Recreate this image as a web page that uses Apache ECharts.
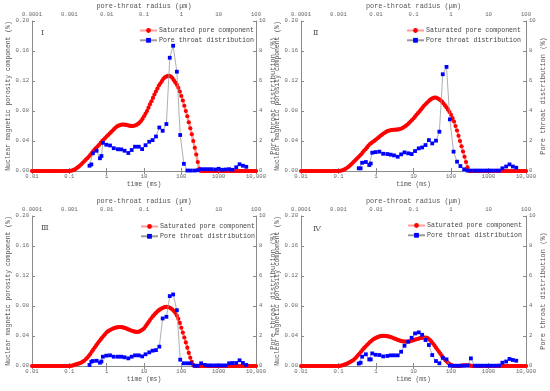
<!DOCTYPE html>
<html><head><meta charset="utf-8">
<script src="https://cdn.jsdelivr.net/npm/echarts@6/dist/echarts.min.js"></script>
<style>html,body{margin:0;padding:0;background:#fff}#c{width:550px;height:391px}</style>
</head><body><div id="c"></div>
<script>
// ---------- data ----------
const panelLabels = ['Ⅰ', 'Ⅱ', 'Ⅲ', 'Ⅳ'];
const seriesNames = ['Saturated pore component', 'Pore throat distribution'];
const timeTickLabels = ['0.01', '0.1', '1', '10', '100', '1000', '10,000'];
const radiusTickLabels = ['0.0001', '0.001', '0.01', '0.1', '1', '10', '100'];

// NMR T2 bins: log10(t) from -2 to 4, step 0.04 (151 bins)
const t2LogStart = -2, t2LogStep = 0.04;

// Saturated pore component (%), one value per T2 bin
const red1 = [0,0,0,0,0, 0,0,0,0,0, 0,0,0,0,0, 0,0,0,0,0, 0,0,0,0,0,
  0,0.0003,0.0008,0.0015,0.0025,0.004,0.0055,0.007,0.009,0.011,0.013,0.015,0.017,0.019,0.0215,0.024,0.0265,0.029,0.031,0.033,0.035,0.0375,0.040,0.042,0.044,
  0.046,0.048,0.050,0.052,0.054,0.056,0.058,0.0595,0.0605,0.0613,0.0618,0.062,0.0619,0.0615,0.061,0.0605,0.0601,0.060,0.0602,0.0607,0.0615,0.0628,0.0645,0.0667,0.0695,
  0.073,0.0765,0.080,0.0845,0.089,0.093,0.0975,0.102,0.106,0.110,0.114,0.117,0.120,0.123,0.125,0.126,0.127,0.1268,0.126,0.124,0.121,0.118,0.115,0.111,0.106,
  0.100,0.094,0.087,0.080,0.073,0.065,0.057,0.049,0.040,0.031,0.022,0.012,0.003,0,
  0,0,0,0,0, 0,0,0,0,0, 0,0,0,0,0, 0,0,0,0,0, 0,0,0,0,0, 0,0,0,0,0, 0,0,0,0,0, 0,0];
const red2 = [0,0,0,0,0, 0,0,0,0,0, 0,0,0,0,0, 0,0,0,0,0, 0,0,0,0,0,
  0,0.0003,0.0007,0.0013,0.0022,0.0033,0.0047,0.0063,0.008,0.010,0.012,0.014,0.016,0.018,0.020,0.022,0.0245,0.027,0.029,0.0315,0.034,0.036,0.0375,0.039,0.0405,
  0.042,0.0437,0.0453,0.047,0.0485,0.050,0.0513,0.0525,0.0534,0.054,0.0545,0.0548,0.055,0.0551,0.0552,0.0555,0.056,0.0567,0.0577,0.059,0.0605,0.062,0.064,0.066,0.068,
  0.070,0.0725,0.075,0.0772,0.0795,0.082,0.0845,0.087,0.089,0.091,0.093,0.0948,0.0963,0.0973,0.098,0.0978,0.097,0.0958,0.0943,0.0925,0.090,0.0875,0.0848,0.0818,0.0786,
  0.075,0.0705,0.066,0.060,0.054,0.047,0.040,0.033,0.026,0.019,0.012,0.005,0,0,
  0,0,0,0,0, 0,0,0,0,0, 0,0,0,0,0, 0,0,0,0,0, 0,0,0,0,0, 0,0,0,0,0, 0,0,0,0,0, 0,0];
const red3 = [0,0,0,0,0, 0,0,0,0,0, 0,0,0,0,0, 0,0,0,0,0, 0,0,0,0,0,
  0,0.0002,0.0006,0.0011,0.0018,0.0025,0.0031,0.0037,0.0046,0.0058,0.007,0.009,0.011,0.0133,0.016,0.019,0.0218,0.0246,0.0274,0.0302,0.033,0.0355,0.038,0.0403,0.0426,
  0.045,0.0465,0.0476,0.0487,0.0497,0.0505,0.0511,0.0516,0.0519,0.052,0.0518,0.0514,0.0508,0.0501,0.0493,0.0485,0.0477,0.0469,0.0463,0.0458,0.0455,0.0455,0.0461,0.0472,0.0486,
  0.050,0.0528,0.0556,0.0584,0.0612,0.064,0.0664,0.0688,0.0708,0.0728,0.0745,0.0758,0.077,0.0779,0.0786,0.079,0.0786,0.078,0.0768,0.0752,0.0735,0.0707,0.0673,0.063,0.0575,
  0.051,0.0446,0.038,0.0315,0.0245,0.0175,0.011,0.0055,0.0015,0,0,0,0,0,
  0,0,0,0,0, 0,0,0,0,0, 0,0,0,0,0, 0,0,0,0,0, 0,0,0,0,0, 0,0,0,0,0, 0,0,0,0,0, 0,0];
const red4 = [0,0,0,0,0, 0,0,0,0,0, 0,0,0,0,0, 0,0,0,0,0, 0,0,0,0,0,
  0,0.0002,0.0006,0.0011,0.0018,0.0025,0.0034,0.0044,0.0056,0.0068,0.008,0.010,0.012,0.0142,0.0166,0.019,0.0214,0.0238,0.026,0.028,0.030,0.032,0.0337,0.0352,0.0364,
  0.0375,0.0384,0.0392,0.0398,0.0401,0.0402,0.0401,0.0399,0.0395,0.0391,0.0385,0.0377,0.0369,0.0361,0.0353,0.0345,0.0338,0.0332,0.0328,0.0326,0.0325,0.0326,0.0328,0.0332,0.0338,
  0.0345,0.0351,0.0357,0.0363,0.0369,0.0375,0.0378,0.038,0.0379,0.0374,0.0362,0.0345,0.0324,0.030,0.0273,0.0245,0.0217,0.0189,0.0161,0.0133,0.0107,0.0083,0.0062,0.0043,0.0027,
  0.0014,0.0005,0,0,0,0,0,0.0004,0.0008,0.001,0.001,0.001,0.0008,0.0004,
  0,0,0,0,0, 0,0,0,0,0, 0,0,0,0,0, 0,0,0,0,0, 0,0,0,0,0, 0,0,0,0,0, 0,0,0,0,0, 0,0];

// Pore throat distribution sampling times (ms) and values (%)
const poreTimes = [0.347,0.389,0.427,0.537,0.661,0.724,0.794,0.977,1.23,1.55,2.00,2.45,3.02,3.80,4.68,5.75,7.24,8.91,11.0,13.8,17.0,20.9,25.7,31.6,39.8,49.0,60.3,75.9,93.3,117,145,178,224,275,339,427,525,646,813,1000,1230,1549,1905,2344,2951,3631,4467,5495];
const blue1 = [0.35,0.44,1.18,1.35,0.85,1.0,1.88,1.75,1.70,1.52,1.45,1.44,1.35,1.20,1.40,1.62,1.62,1.46,1.72,1.95,2.06,2.30,2.90,2.68,3.13,7.55,8.35,6.62,2.40,0.48,0.03,0.03,0.03,0.05,0.12,0.12,0.12,0.12,0.10,0.15,0.08,0.10,0.12,0.08,0.25,0.45,0.35,0.28];
const blue2 = [0.18,0.18,0.55,0.60,0.40,0.50,1.22,1.26,1.29,1.15,1.13,1.09,1.04,0.95,1.11,1.24,1.18,1.13,1.33,1.51,1.57,1.73,2.06,1.84,2.02,2.62,6.45,6.94,3.44,1.29,0.62,0.33,0.11,0.03,0.03,0.03,0.03,0.03,0.03,0.03,0.03,0.03,0.03,0.18,0.30,0.44,0.30,0.22];
const blue3 = [0.07,0.29,0.33,0.35,0.22,0.30,0.62,0.69,0.71,0.62,0.62,0.62,0.58,0.51,0.62,0.71,0.71,0.64,0.78,0.91,1.02,1.06,1.29,3.17,3.28,4.66,4.77,3.72,0.42,0.18,0.18,0.18,0.02,0.02,0.18,0.07,0.04,0.04,0.04,0.04,0.04,0.04,0.18,0.20,0.20,0.38,0.20,0.07];
const blue4 = [0.16,0.22,0.62,0.78,0.44,0.44,0.84,0.75,0.73,0.64,0.67,0.71,0.71,0.71,0.95,1.35,1.62,1.88,2.17,2.24,2.08,1.73,1.40,0.73,0.33,0.18,0.55,0.44,0.02,0.02,0.02,0.02,0.02,0.03,0.51,0.02,0.02,0.02,0.02,0.02,0.02,0.02,0.03,0.22,0.30,0.47,0.40,0.35];

// ---------- chart ----------
const reds = [red1, red2, red3, red4];
const blues = [blue1, blue2, blue3, blue4];
const t2Times = red1.map((_, i) => +Math.pow(10, t2LogStart + i * t2LogStep).toPrecision(6));

const grids = [
  { left: 32, top: 21, width: 224, height: 150 },
  { left: 301, top: 21, width: 225, height: 150 },
  { left: 32, top: 216, width: 224, height: 150 },
  { left: 301, top: 216, width: 225, height: 150 }
];
const legendPos = [[139, 27], [406, 27], [140, 223], [407, 222]];
const labelPos = [[41, 29], [313, 29], [41, 224], [313, 225]];

const MONO = "'Liberation Mono', 'DejaVu Sans Mono', monospace";
const AX = '#8a8a8a', TXT = '#555';
const tickFont = { fontFamily: MONO, fontSize: 5.6, color: '#666' };
const logIdx = (v, base) => Math.round(Math.log10(v)) - base;

const option = { animation: false, backgroundColor: '#fff', grid: [], xAxis: [], yAxis: [], series: [], legend: [], title: [] };

grids.forEach((g, k) => {
  option.grid.push(Object.assign({ show: false }, g));
  const common = {
    gridIndex: k,
    axisLine: { show: true, lineStyle: { color: AX, width: 1 } },
    axisTick: { show: true, inside: true, length: 3, lineStyle: { color: AX } },
    splitLine: { show: false },
    minorTick: { show: false },
    nameTextStyle: { fontFamily: MONO, color: TXT }
  };
  option.xAxis.push(Object.assign({}, common, {
    type: 'log', logBase: 10, min: 0.01, max: 10000, position: 'bottom',
    name: 'time (ms)', nameLocation: 'middle', nameGap: 10,
    nameTextStyle: { fontFamily: MONO, color: TXT, fontSize: 6.4 },
    axisLabel: Object.assign({ margin: 3, formatter: v => timeTickLabels[logIdx(v, -2)] }, tickFont)
  }));
  option.xAxis.push(Object.assign({}, common, {
    type: 'log', logBase: 10, min: 0.0001, max: 100, position: 'top',
    name: 'pore-throat radius (μm)', nameLocation: 'middle', nameGap: 11,
    nameTextStyle: { fontFamily: MONO, color: TXT, fontSize: 6.9 },
    axisLabel: Object.assign({ margin: 3, formatter: v => radiusTickLabels[logIdx(v, -4)] }, tickFont)
  }));
  option.yAxis.push(Object.assign({}, common, {
    type: 'value', min: 0, max: 0.2, interval: 0.04, position: 'left',
    name: 'Nuclear magnetic porosity component (%)', nameLocation: 'middle', nameRotate: 90,
    nameGap: k % 2 === 0 ? 18 : 15.5,
    nameTextStyle: { fontFamily: MONO, color: TXT, fontSize: 6.4 },
    axisLabel: Object.assign({ margin: 3, formatter: v => v.toFixed(2) }, tickFont)
  }));
  option.yAxis.push(Object.assign({}, common, {
    type: 'value', min: 0, max: 10, interval: 2, position: 'right',
    name: 'Pore throat distribution (%)', nameLocation: 'middle', nameRotate: 90,
    nameGap: 10,
    nameTextStyle: { fontFamily: MONO, color: TXT, fontSize: 7 },
    axisLabel: Object.assign({ margin: 3, formatter: v => String(v) }, tickFont)
  }));
  option.series.push({
    type: 'line', name: seriesNames[0], xAxisIndex: 2 * k, yAxisIndex: 2 * k,
    data: t2Times.map((t, i) => [t, reds[k][i]]),
    symbol: 'circle', symbolSize: 4.2, showAllSymbol: true, z: 2,
    itemStyle: { color: '#ff0000' },
    lineStyle: { color: '#ff9c9c', width: 2.5 }
  });
  option.series.push({
    type: 'line', name: seriesNames[1], xAxisIndex: 2 * k, yAxisIndex: 2 * k + 1,
    data: poreTimes.map((t, i) => [t, blues[k][i]]),
    symbol: 'rect', symbolSize: 3.8, showAllSymbol: true, z: 3,
    itemStyle: { color: '#0000ff' },
    lineStyle: { color: '#9a9a9a', width: 0.8 }
  });
  option.legend.push({
    data: seriesNames, orient: 'vertical', left: legendPos[k][0], top: legendPos[k][1],
    padding: 0, itemWidth: 17, itemHeight: 6, itemGap: 2.8, selectedMode: false,
    textStyle: { fontFamily: MONO, fontSize: 6.6, color: '#444', padding: [0, 0, 0, -3] }
  });
  option.title.push({
    text: panelLabels[k], left: labelPos[k][0], top: labelPos[k][1], padding: 0,
    textStyle: { fontFamily: "'DejaVu Serif', 'Noto Sans CJK SC', serif", fontSize: 8, fontWeight: 'normal', color: '#555' }
  });
});

const chart = echarts.init(document.getElementById('c'), null, { renderer: 'canvas' });
chart.setOption(option);
</script>
</body></html>
